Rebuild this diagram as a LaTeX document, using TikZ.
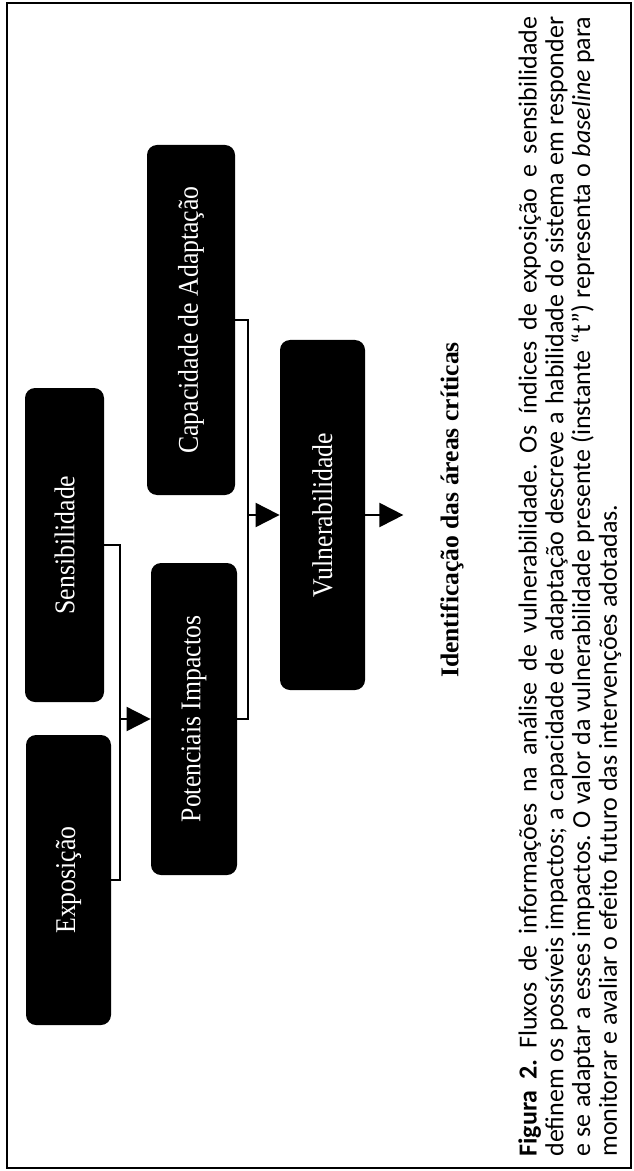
\documentclass[tikz,border=0pt]{standalone}
\usepackage{fontspec}
\setmainfont{Liberation Serif}
\newfontfamily\capfont{Carlito}
\newfontfamily\boxfont{Liberation Serif}[FakeStretch=0.9]
\usepackage{tikz}
\usetikzlibrary{arrows.meta}

\begin{document}
\begin{tikzpicture}[x=0.5pt, y=-0.5pt,
    blk/.style={fill=black, rounded corners=5pt, text=white, rotate=90, inner sep=0pt,
        font=\boxfont\fontsize{14.3}{16}\selectfont},
    wire/.style={line width=1pt},
    tip/.style={-{Triangle[length=12pt,width=12pt]}}]
    \useasboundingbox (0,0) rectangle (633,1171);
    % Frame
    \draw[line width=1pt] (7,3) rectangle (631,1168);

    % Input indices
    \node[blk, minimum width=145pt, minimum height=42.5pt] (expo) at (68.5,880) {Exposição};
    \node[blk, minimum width=157pt, minimum height=39.5pt] (sens) at (64.5,545) {Sensibilidade};

    % Impacts and adaptive capacity
    \node[blk, minimum width=156pt, minimum height=43pt] (pot) at (194,719) {Potenciais Impactos};
    \node[blk, minimum width=175pt, minimum height=44pt] (cap) at (191,320) {Capacidade de Adaptação};

    % Vulnerability
    \node[blk, minimum width=175pt, minimum height=42.5pt] (vuln) at (322.5,515) {Vulnerabilidade};

    % Joins
    \coordinate (j1) at (120,0);
    \coordinate (j2) at (248,0);
    \draw[wire] (sens.south) -- (sens.south -| j1) -- (expo.south -| j1) -- (expo.south);
    \draw[wire, tip] (pot.north -| j1) -- (pot.north);
    \draw[wire] (cap.south) -- (cap.south -| j2) -- (pot.south -| j2) -- (pot.south);
    \draw[wire, tip] (vuln.north -| j2) -- (vuln.north);
    \draw[wire, tip] (vuln.south) -- ++(38,0);

    % Result
    \node[rotate=90, font=\fontsize{12.8}{15}\selectfont\bfseries] (ident) at (452,510)
        {Identificação das áreas críticas};

    % Caption
    \node[rotate=90, anchor=north west, inner sep=0pt, text width=570pt, align=justify,
        font=\capfont\fontsize{13}{13.35}\selectfont] (caption) at (518,1157)
        {\tolerance=10000\hyphenpenalty=10000\frenchspacing
        {\bfseries Figura 2.} Fluxos de informações na análise de vulnerabilidade. Os índices de exposição e sensibilidade\linebreak
        definem os possíveis impactos; a capacidade de adaptação descreve a habilidade do sistema em responder\linebreak
        e se adaptar a esses impactos. O valor da vulnerabilidade presente (instante “t”) representa o \textit{baseline} para\linebreak
        monitorar e avaliar o efeito futuro das intervenções adotadas.};
\end{tikzpicture}
\end{document}
